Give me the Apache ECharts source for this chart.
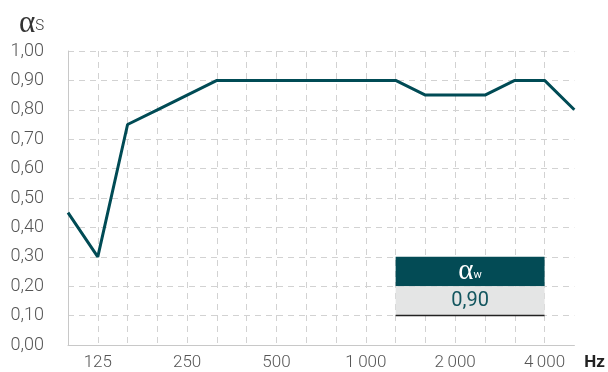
<!DOCTYPE html>
<html>
<head>
<meta charset="utf-8">
<script src="https://cdn.jsdelivr.net/npm/echarts@6/dist/echarts.min.js"></script>
<style>
  html, body { margin: 0; padding: 0; background: #ffffff; }
  #chart { width: 608px; height: 372px; }
</style>
</head>
<body>
<div id="chart"></div>
<script>
// Third-octave band centre frequencies (Hz)
const frequencies = ['100', '125', '160', '200', '250', '315', '400', '500', '630',
  '800', '1000', '1250', '1600', '2000', '2500', '3150', '4000', '5000'];

// Sound absorption coefficient per band
const alphaS = [0.45, 0.30, 0.75, 0.80, 0.85, 0.90, 0.90, 0.90, 0.90,
  0.90, 0.90, 0.90, 0.85, 0.85, 0.85, 0.90, 0.90, 0.80];

// Octave labels shown under the axis
const xTickLabels = {
  '125': '125', '250': '250', '500': '500',
  '1000': '1\u2009000', '2000': '2\u2009000', '4000': '4\u2009000'
};

// Weighted absorption coefficient and the bands spanning its box
const alphaW = 0.90;
const boxFrom = '1250';
const boxTo = '4000';
const boxRows = [0.30, 0.20, 0.10];

const fmt = v => v.toFixed(2).replace('.', ',');
const gridColor = '#d2d2d2';
const lineColor = '#004b55';
const greekFont = 'Liberation Serif';

const chart = echarts.init(document.getElementById('chart'), null, { renderer: 'canvas' });

chart.setOption({
  animation: false,
  backgroundColor: '#ffffff',
  textStyle: { fontFamily: 'Roboto' },
  title: {
    left: 14,
    top: 3,
    text: '{a|α}{s|S}',
    textStyle: {
      rich: {
        a: { fontFamily: greekFont, fontWeight: 'normal', fontSize: 31, color: '#333333', verticalAlign: 'bottom' },
        s: { fontFamily: 'Roboto', fontWeight: 300, fontSize: 15, color: '#333333', verticalAlign: 'bottom', padding: [0, 0, 5, 0] }
      }
    }
  },
  grid: { left: 68, right: 33, top: 51, bottom: 27, containLabel: false },
  xAxis: {
    type: 'category',
    data: frequencies,
    boundaryGap: false,
    name: 'Hz',
    nameLocation: 'end',
    nameGap: 10,
    nameTextStyle: {
      fontFamily: 'Roboto', fontSize: 17, fontWeight: 'bold', color: '#222222',
      verticalAlign: 'top', padding: [9, 0, 0, 0]
    },
    axisLine: { show: true, lineStyle: { color: '#c8c8c8', width: 1 } },
    axisTick: { show: false },
    axisLabel: {
      interval: 0,
      margin: 9,
      color: '#555555',
      fontFamily: 'Roboto',
      fontWeight: 300,
      fontSize: 17,
      formatter: v => xTickLabels[v] || ''
    },
    splitLine: {
      show: true,
      interval: (i) => i > 0 && i < frequencies.length - 1,
      lineStyle: { color: gridColor, type: [6, 5], width: 1 }
    }
  },
  yAxis: {
    type: 'value',
    min: 0,
    max: 1,
    interval: 0.1,
    axisLine: { show: true, lineStyle: { color: '#c8c8c8', width: 1 } },
    axisTick: { show: false },
    axisLabel: {
      margin: 24,
      color: '#555555',
      fontFamily: 'Roboto',
      fontWeight: 300,
      fontSize: 18,
      padding: [9, 0, 0, 0],
      formatter: v => fmt(v)
    },
    splitLine: {
      show: true,
      lineStyle: { color: gridColor, type: [6, 5], width: 1 }
    }
  },
  series: [{
    type: 'line',
    data: alphaS,
    symbol: 'none',
    lineStyle: { color: lineColor, width: 3 },
    z: 3,
    markArea: {
      silent: true,
      z: 4,
      data: [
        [
          {
            coord: [boxFrom, boxRows[0]],
            itemStyle: { color: '#034b55' },
            label: {
              show: true,
              position: 'inside',
              formatter: '{a|α}{w|w}',
              rich: {
                a: { fontFamily: greekFont, fontWeight: 'normal', fontSize: 29, color: '#ffffff', verticalAlign: 'bottom' },
                w: { fontFamily: 'Roboto', fontSize: 11, color: '#ffffff', verticalAlign: 'bottom', padding: [0, 0, 5, 0] }
              }
            }
          },
          { coord: [boxTo, boxRows[1]] }
        ],
        [
          {
            coord: [boxFrom, boxRows[1]],
            itemStyle: { color: '#e4e5e5' },
            label: {
              show: true,
              position: 'inside',
              formatter: fmt(alphaW),
              fontFamily: 'Roboto',
              fontWeight: 400,
              fontSize: 20,
              color: '#13565f'
            }
          },
          { coord: [boxTo, boxRows[2]] }
        ]
      ]
    },
    markLine: {
      silent: true,
      symbol: 'none',
      z: 5,
      label: { show: false },
      lineStyle: { color: '#222222', type: 'solid', width: 1.3 },
      data: [[{ coord: [boxFrom, boxRows[2]] }, { coord: [boxTo, boxRows[2]] }]]
    }
  }]
});
</script>
</body>
</html>
